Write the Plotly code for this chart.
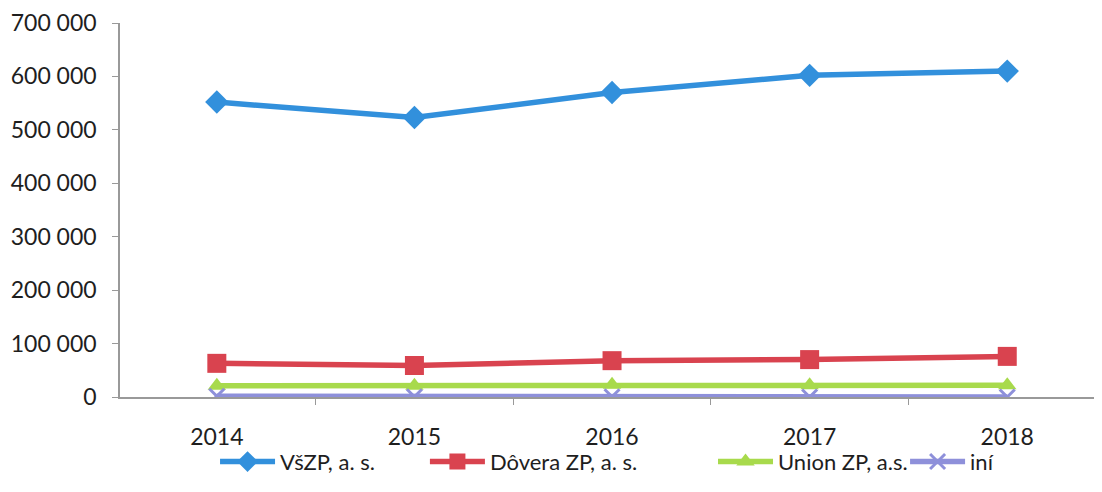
import plotly.graph_objects as go

# data
years = ["2014", "2015", "2016", "2017", "2018"]
vszp = [552000, 523000, 570000, 602000, 610000]
dovera = [63000, 59000, 68000, 70000, 76000]
union = [21000, 21000, 23000, 22000, 22000]
ine = [1500, 500, 500, 0, 0]
y_ticks = [0, 100000, 200000, 300000, 400000, 500000, 600000, 700000]

series = [
    ("VšZP, a. s.", vszp, "#3290dc", "diamond", 18),
    ("Dôvera ZP, a. s.", dovera, "#d9434f", "square", 19),
    ("Union ZP, a.s.", union, "#a8da4c", "triangle-up", 16),
    ("iní", ine, "#8e90da", "x-thin", 15),
]
# one legend per series so the entries can sit where the original has them
legend_x = [0.096, 0.308, 0.599, 0.793]

fig = go.Figure()
for i, (name, vals, color, symbol, size) in enumerate(series):
    marker = dict(symbol=symbol, size=size, color=color)
    if symbol == "x-thin":
        marker["line"] = dict(color=color, width=3)
    fig.add_trace(
        go.Scatter(
            x=years,
            y=vals,
            mode="lines+markers",
            name=name,
            line=dict(color=color, width=5.5),
            marker=marker,
            legend="legend" if i == 0 else f"legend{i + 1}",
        )
    )

font = "Lato, 'Open Sans', sans-serif"
legends = {}
for i, lx in enumerate(legend_x):
    key = "legend" if i == 0 else f"legend{i + 1}"
    legends[key] = dict(
        orientation="h",
        x=lx,
        xanchor="left",
        y=-0.117,
        yanchor="top",
        font=dict(size=22),
        itemwidth=55,
        bgcolor="rgba(0,0,0,0)",
    )

fig.update_layout(
    width=1102,
    height=492,
    margin=dict(l=112, r=0, t=15, b=103, autoexpand=False),
    plot_bgcolor="white",
    paper_bgcolor="white",
    separators=", ",
    font=dict(family=font, size=22, color="#1e1e1e"),
    showlegend=True,
    **legends,
)
fig.update_xaxes(
    type="category",
    range=[-0.49, 4.52],
    automargin=False,
    showline=True,
    linecolor="#999999",
    linewidth=1.5,
    ticks="outside",
    tickson="boundaries",
    ticklen=6,
    tickcolor="#999999",
    showgrid=False,
    tickfont=dict(size=23),
    ticklabelstandoff=19,
)
fig.update_yaxes(
    range=[0, 700000],
    tickvals=y_ticks,
    tickformat=",d",
    automargin=False,
    showline=True,
    linecolor="#999999",
    linewidth=1.5,
    ticks="outside",
    ticklen=6,
    tickcolor="#999999",
    showgrid=False,
    zeroline=False,
    tickfont=dict(size=23),
    ticklabelstandoff=11,
)

fig.write_html("out.html")
